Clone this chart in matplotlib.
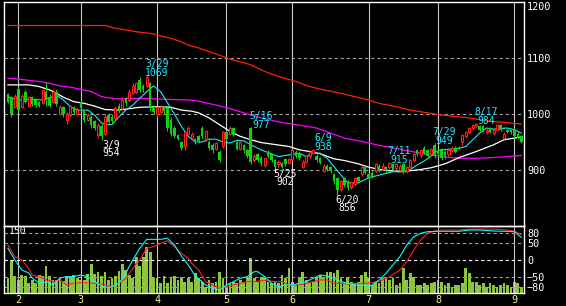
import matplotlib
matplotlib.use('Agg')
import matplotlib.pyplot as plt

# 日足 (index 0 = late Jan)
opens = [1035, 1028, 1013, 1045, 1012, 1040, 1015, 1030, 1025, 1022,
         1020, 1040, 1030, 1022, 1040, 1000, 1012, 990, 998, 1010,
         1000, 1022, 1005, 990, 995, 988, 962, 978, 965, 998,
         995, 992, 1015, 1010, 1028, 1025, 1038, 1040, 1060, 1050,
         1050, 1055, 1012, 1000, 1003, 1010, 1010, 990, 975, 962,
         950, 942, 965, 958, 955, 960, 975, 955, 950, 945,
         938, 932, 942, 968, 965, 975, 950, 938, 945, 935,
         975, 918, 928, 922, 909, 932, 928, 918, 910, 912,
         920, 912, 920, 932, 930, 905, 915, 925, 930, 925,
         922, 898, 908, 905, 892, 885, 866, 885, 880, 870,
         875, 888, 893, 905, 893, 895, 898, 908, 902, 905,
         905, 910, 903, 900, 910, 898, 905, 918, 935, 926,
         940, 935, 928, 945, 935, 938, 932, 928, 935, 940,
         940, 950, 960, 968, 975, 978, 978, 978, 968, 975,
         966, 972, 980, 958, 972, 972, 972, 965, 960]
highs = [1038, 1032, 1035, 1049, 1036, 1043, 1033, 1032, 1028, 1024,
         1045, 1058, 1035, 1045, 1044, 1016, 1015, 1003, 1016, 1015,
         1012, 1025, 1008, 1002, 998, 990, 984, 982, 1000, 1002,
         1000, 1014, 1020, 1030, 1030, 1045, 1055, 1058, 1066, 1053,
         1069, 1058, 1016, 1015, 1016, 1015, 1012, 995, 978, 965,
         952, 970, 978, 967, 957, 962, 978, 972, 953, 948,
         950, 935, 970, 972, 978, 977, 952, 952, 947, 938,
         977, 928, 930, 925, 922, 935, 930, 920, 918, 914,
         922, 922, 937, 935, 932, 917, 927, 935, 938, 928,
         924, 910, 910, 908, 895, 887, 883, 888, 882, 880,
         887, 890, 907, 908, 895, 898, 912, 910, 912, 908,
         915, 912, 912, 910, 912, 908, 920, 930, 937, 938,
         942, 937, 940, 949, 938, 940, 935, 937, 942, 942,
         942, 964, 970, 977, 982, 984, 980, 980, 975, 977,
         974, 982, 982, 967, 974, 974, 975, 968, 963]
lows = [1020, 995, 1010, 1005, 1010, 1020, 1012, 1015, 1012, 1012,
        1018, 1015, 1012, 1020, 1015, 998, 995, 982, 995, 1000,
        997, 1007, 985, 987, 975, 972, 958, 954, 962, 982,
        983, 990, 1002, 1008, 1015, 1022, 1035, 1038, 1040, 1040,
        1048, 1005, 1000, 995, 1000, 1000, 970, 960, 957, 953,
        936, 935, 962, 955, 946, 948, 957, 952, 936, 930,
        935, 915, 940, 952, 962, 960, 935, 935, 930, 922,
        910, 915, 915, 908, 905, 922, 915, 902, 906, 903,
        907, 910, 918, 922, 918, 903, 912, 922, 928, 915,
        910, 896, 898, 895, 875, 856, 862, 870, 865, 866,
        872, 877, 890, 893, 882, 885, 895, 897, 900, 895,
        902, 898, 900, 897, 893, 895, 903, 915, 925, 924,
        928, 922, 925, 922, 925, 918, 920, 925, 932, 930,
        935, 945, 958, 965, 972, 975, 970, 968, 965, 966,
        963, 970, 970, 955, 966, 965, 958, 955, 948]
closes = [1022, 1000, 1032, 1008, 1033, 1022, 1030, 1018, 1016, 1015,
          1043, 1027, 1014, 1040, 1018, 1012, 1000, 1000, 1014, 1003,
          1008, 1010, 990, 998, 980, 975, 980, 960, 995, 985,
          988, 1010, 1005, 1025, 1020, 1040, 1050, 1055, 1043, 1045,
          1066, 1010, 1003, 1010, 1012, 1005, 975, 965, 960, 955,
          940, 968, 975, 965, 950, 952, 960, 970, 940, 935,
          948, 918, 968, 955, 975, 962, 938, 950, 935, 925,
          915, 925, 918, 912, 921, 925, 918, 905, 915, 906,
          910, 920, 935, 925, 922, 915, 925, 933, 936, 918,
          912, 908, 900, 898, 880, 865, 880, 874, 868, 878,
          885, 880, 905, 895, 885, 888, 910, 900, 908, 898,
          912, 900, 910, 908, 896, 905, 918, 928, 928, 935,
          930, 925, 937, 925, 928, 922, 925, 935, 940, 932,
          937, 962, 968, 975, 980, 982, 972, 970, 972, 968,
          972, 980, 972, 965, 968, 968, 960, 958, 950]
volume = [34, 74, 38, 30, 40, 38, 22, 30, 22, 40,
          38, 60, 38, 30, 30, 33, 27, 38, 38, 41,
          33, 30, 30, 44, 65, 44, 47, 38, 48, 30,
          33, 38, 50, 65, 52, 40, 33, 82, 60, 82,
          104, 93, 33, 33, 22, 38, 22, 33, 38, 30,
          37, 26, 33, 26, 45, 33, 26, 15, 30, 22,
          26, 48, 33, 15, 22, 26, 22, 30, 26, 37,
          78, 33, 26, 37, 33, 26, 22, 26, 22, 41,
          33, 56, 26, 19, 37, 48, 30, 22, 26, 37,
          41, 33, 48, 48, 45, 52, 33, 26, 37, 26,
          22, 26, 40, 48, 33, 19, 26, 22, 33, 37,
          30, 33, 19, 22, 56, 30, 45, 37, 19, 19,
          22, 19, 22, 26, 30, 26, 19, 22, 15, 19,
          19, 22, 56, 45, 26, 26, 19, 22, 15, 22,
          19, 15, 19, 22, 19, 15, 26, 22, 15]

# 月の区切り
month_idx = [3, 21, 43, 63, 82, 104, 124, 146]
month_lbl = ['2', '3', '4', '5', '6', '7', '8', '9']

# 移動平均線 (index, price)
ma_short_i = [0, 3, 7, 10, 13, 14, 16, 18, 20, 23, 25, 27, 28, 30, 32, 34, 36, 38, 40, 42,
              44, 46, 48, 50, 52, 54, 56, 58, 60, 62, 64, 66, 68, 70, 73, 78, 81, 84, 86, 88,
              90, 92, 94, 96, 98, 101, 104, 107, 111, 115, 118, 120, 122, 124, 130, 132, 134, 136, 138, 140,
              144, 146, 148]
ma_short_v = [1031, 1025, 1026, 1025, 1031, 1034, 1025, 1013, 1007, 1007, 998, 984, 981, 981, 995, 1007, 1016, 1028, 1040, 1050,
              1040, 1020, 1000, 978, 960, 950, 950, 955, 955, 950, 948, 953, 952, 945, 936, 924, 927, 930, 924, 930,
              930, 921, 906, 891, 877, 877, 886, 891, 897, 897, 909, 916, 925, 935, 939, 942, 954, 966, 975, 973,
              975, 972, 966]
ma_mid_i = [0, 6, 9, 12, 14, 16, 19, 22, 25, 28, 32, 38, 43, 47, 50, 53, 55, 58, 61, 64,
            67, 70, 73, 81, 84, 87, 90, 94, 97, 101, 104, 108, 113, 118, 122, 126, 130, 135, 140, 143,
            146, 148]
ma_mid_v = [1052, 1052, 1049, 1043, 1037, 1030, 1022, 1019, 1014, 1008, 1007, 1012, 1013, 1012, 1007, 1005, 1002, 993, 981, 969,
            960, 954, 949, 942, 936, 933, 929, 920, 917, 911, 905, 900, 897, 900, 904, 911, 922, 933, 945, 954,
            957, 959]
ma_long_i = [0, 5, 9, 12, 15, 18, 21, 24, 27, 31, 38, 47, 52, 55, 62, 66, 70, 73, 78, 83,
             89, 93, 97, 102, 107, 113, 119, 125, 130, 136, 142, 148]
ma_long_v = [1064, 1061, 1058, 1055, 1050, 1048, 1044, 1040, 1031, 1027, 1028, 1026, 1025, 1023, 1013, 1006, 998, 993, 986, 981,
             975, 966, 957, 951, 944, 937, 930, 924, 921, 921, 923, 926]
ma_200_i = [0, 7, 28, 31, 34, 38, 41, 47, 50, 52, 55, 61, 64, 70, 74, 78, 83, 87, 91, 96,
            100, 104, 107, 112, 116, 122, 125, 133, 139, 143, 148]
ma_200_v = [1158, 1158, 1158, 1153, 1150, 1146, 1144, 1135, 1129, 1123, 1118, 1105, 1098, 1088, 1076, 1067, 1058, 1049, 1043, 1037,
            1031, 1025, 1019, 1013, 1007, 1001, 998, 993, 987, 985, 982]

# オシレーター
osc_fast_i = [0, 2, 4, 6, 7, 9, 11, 13, 15, 17, 19, 21, 23, 25, 27, 29, 30, 32, 34, 36,
              38, 40, 42, 44, 46, 48, 50, 52, 54, 56, 57, 59, 61, 63, 65, 67, 69, 71, 72, 74,
              76, 78, 80, 82, 84, 86, 88, 90, 92, 94, 96, 98, 100, 102, 104, 105, 107, 109, 111, 113,
              115, 117, 119, 121, 124, 127, 130, 133, 136, 140, 143, 146, 148]
osc_fast_v = [35, 0, -30, -39, -54, -70, -65, -75, -54, -50, -50, -45, -50, -65, -78, -83, -80, -70, -39, 0,
              35, 62, 62, 62, 65, 45, 12, -15, -48, -65, -75, -85, -90, -75, -65, -55, -50, -35, -35, -50,
              -70, -80, -75, -75, -70, -65, -55, -45, -48, -55, -65, -70, -75, -75, -80, -75, -60, -40, -15, 10,
              45, 70, 80, 85, 86, 86, 86, 90, 90, 87, 86, 85, 68]
osc_slow_i = [0, 2, 4, 6, 7, 9, 11, 13, 15, 17, 19, 21, 25, 28, 30, 32, 34, 36, 38, 40,
              42, 44, 46, 48, 50, 52, 53, 55, 57, 59, 61, 63, 65, 67, 69, 71, 73, 75, 77, 79,
              81, 84, 86, 88, 90, 92, 94, 96, 98, 101, 103, 107, 110, 113, 115, 117, 119, 121, 123, 125,
              130, 133, 137, 142, 146, 148]
osc_slow_v = [45, 10, 0, -25, -45, -50, -60, -65, -60, -75, -70, -68, -70, -75, -82, -70, -55, -25, 0, 35,
              40, 50, 58, 40, 20, 5, -10, -30, -65, -75, -85, -80, -75, -70, -65, -65, -62, -62, -65, -65,
              -75, -75, -70, -65, -60, -60, -70, -70, -72, -72, -70, -65, -50, -30, -5, 30, 60, 80, 87, 90,
              90, 92, 93, 92, 87, 76]

# 高値・安値のマーク
mark_idx = [27, 40, 70, 77, 88, 95, 110, 123, 135]
mark_date = ['3/9', '3/29', '5/16', '5/25', '6/9', '6/20', '7/11', '7/29', '8/17']
mark_val = [954, 1069, 977, 902, 938, 856, 915, 949, 984]
mark_top = [False, True, True, False, True, False, True, True, True]

UP = '#ff2020'
DOWN = '#10d010'
CYAN = '#20e8ff'
GRID = '#a0a0a0'
FONT = 'DejaVu Sans Mono'

W, H = 566, 306
fig = plt.figure(figsize=(W / 100, H / 100), dpi=100, facecolor='black')


def box(x0, y0, x1, y1):
    return [x0 / W, 1 - y1 / H, (x1 - x0) / W, (y1 - y0) / H]


ax = fig.add_axes(box(4.3, 2, 524.3, 226))
ax2 = fig.add_axes(box(4.3, 226, 524.3, 293.3), sharex=ax)
ax3 = ax2.twinx()

for a in (ax, ax2):
    a.set_facecolor('black')
    for s in a.spines.values():
        s.set_color('white')
        s.set_linewidth(1.0)
    for m in month_idx:
        a.axvline(m, color='#c8c8c8', lw=0.8, zorder=1)
for s in ax3.spines.values():
    s.set_visible(False)

# 価格パネル
for p in [1100, 1000, 900]:
    ax.axhline(p, color=GRID, lw=0.8, dashes=(3, 2.5), zorder=1)
ax.plot(ma_200_i, ma_200_v, color='#ff2000', lw=0.9, zorder=2)
ax.plot(ma_long_i, ma_long_v, color='#ff00ff', lw=0.9, zorder=2)
ax.plot(ma_mid_i, ma_mid_v, color='white', lw=0.9, zorder=2)
ax.plot(ma_short_i, ma_short_v, color=CYAN, lw=0.8, zorder=2)

days = list(range(len(closes)))
up_d = [i for i in days if closes[i] >= opens[i]]
dn_d = [i for i in days if closes[i] < opens[i]]
ax.vlines(days, lows, highs, colors=[UP if closes[i] >= opens[i] else DOWN for i in days],
          lw=0.8, zorder=3)
ax.bar(up_d, [max(closes[i] - opens[i], 1.5) for i in up_d], bottom=[opens[i] for i in up_d],
       width=0.6, facecolor='black', edgecolor=UP, linewidth=0.8, zorder=4)
ax.bar(dn_d, [max(opens[i] - closes[i], 1.5) for i in dn_d], bottom=[closes[i] for i in dn_d],
       width=0.72, color=DOWN, linewidth=0, zorder=4)

for i, d, v, top in zip(mark_idx, mark_date, mark_val, mark_top):
    c = CYAN if top else 'white'
    dy = (11, 2) if top else (-5, -13.5)
    ax.annotate(d, xy=(i, v), xytext=(10, dy[0]), textcoords='offset pixels',
                ha='center', va='center', color=c, fontsize=7, family=FONT, zorder=6)
    ax.annotate(str(v), xy=(i, v), xytext=(10, dy[1]), textcoords='offset pixels',
                ha='center', va='center', color=c, fontsize=7, family=FONT, zorder=6)

ax.set_xlim(-1.04, 148.86)
ax.set_ylim(800, 1200)
ax.yaxis.tick_right()
ax.set_yticks([1200, 1100, 1000, 900])
ax.tick_params(axis='y', length=0, pad=2, labelcolor='white', labelsize=7.3)
ax.tick_params(axis='x', bottom=False, labelbottom=False)
for t in ax.get_yticklabels():
    t.set_family(FONT)
# 一番上のラベルは枠の内側に収める
ax.get_yticklabels()[0].set_verticalalignment('top')

# 出来高・オシレーター
ax3.bar(days, volume, width=0.8, color='#8cc63f', linewidth=0, zorder=1)
ax3.set_ylim(0, 150)
ax3.set_yticks([])
ax3.set_zorder(1)
ax2.set_zorder(2)
ax2.patch.set_visible(False)
ax3.patch.set_facecolor('black')

for v in [80, 50, -50, -80]:
    ax2.axhline(v, color=GRID, lw=0.8, dashes=(3, 2.5), zorder=1)
ax2.axhline(0, color='white', lw=0.8, dashes=(3, 2.5), zorder=1)
ax2.plot(osc_slow_i, osc_slow_v, color=UP, lw=0.8, zorder=3)
ax2.plot(osc_fast_i, osc_fast_v, color='#00ffff', lw=0.8, zorder=3)
ax2.text(0.009, 0.925, '150', transform=ax2.transAxes, color='white', fontsize=7,
         family=FONT, va='center', ha='left')

ax2.set_ylim(-100, 102)
ax2.yaxis.tick_right()
ax2.set_yticks([80, 50, 0, -50, -80])
ax2.tick_params(axis='y', length=0, pad=2, labelcolor='white', labelsize=7.3)
ax2.set_xticks(month_idx)
ax2.set_xticklabels(month_lbl)
ax2.tick_params(axis='x', length=0, pad=1, labelcolor='#f0f0a0', labelsize=7.3)
for t in ax2.get_yticklabels() + ax2.get_xticklabels():
    t.set_family(FONT)

fig.savefig('out.png', dpi=100, facecolor='black')
